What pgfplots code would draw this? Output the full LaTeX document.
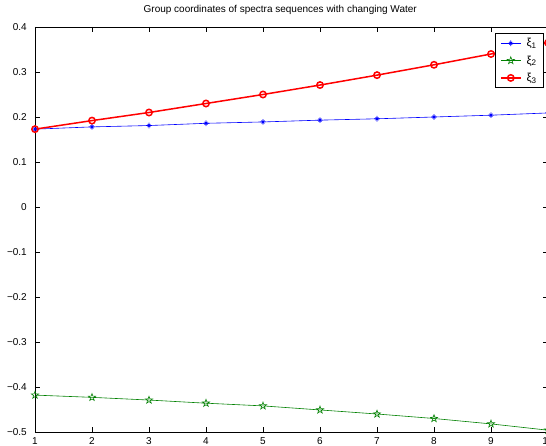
\documentclass[border=0pt]{standalone}
\usepackage{fontspec}
\setmainfont{Liberation Sans}
\usepackage{pgfplots}
\pgfplotsset{compat=1.18}

% MATLAB-style '*' marker: plus and cross combined
\pgfdeclareplotmark{mstar}{%
  \pgfpathmoveto{\pgfqpoint{-\pgfplotmarksize}{0pt}}%
  \pgfpathlineto{\pgfqpoint{\pgfplotmarksize}{0pt}}%
  \pgfpathmoveto{\pgfqpoint{0pt}{-\pgfplotmarksize}}%
  \pgfpathlineto{\pgfqpoint{0pt}{\pgfplotmarksize}}%
  \pgfpathmoveto{\pgfpointpolar{45}{0.75\pgfplotmarksize}}%
  \pgfpathlineto{\pgfpointpolar{225}{0.75\pgfplotmarksize}}%
  \pgfpathmoveto{\pgfpointpolar{135}{0.75\pgfplotmarksize}}%
  \pgfpathlineto{\pgfpointpolar{315}{0.75\pgfplotmarksize}}%
  \pgfusepathqstroke}
% outlined five-pointed star (pentagram)
\pgfdeclareplotmark{pentagram}{%
  \pgfpathmoveto{\pgfpointpolar{90}{\pgfplotmarksize}}%
  \pgfpathlineto{\pgfpointpolar{126}{0.4\pgfplotmarksize}}%
  \pgfpathlineto{\pgfpointpolar{162}{\pgfplotmarksize}}%
  \pgfpathlineto{\pgfpointpolar{198}{0.4\pgfplotmarksize}}%
  \pgfpathlineto{\pgfpointpolar{234}{\pgfplotmarksize}}%
  \pgfpathlineto{\pgfpointpolar{270}{0.4\pgfplotmarksize}}%
  \pgfpathlineto{\pgfpointpolar{306}{\pgfplotmarksize}}%
  \pgfpathlineto{\pgfpointpolar{342}{0.4\pgfplotmarksize}}%
  \pgfpathlineto{\pgfpointpolar{18}{\pgfplotmarksize}}%
  \pgfpathlineto{\pgfpointpolar{54}{0.4\pgfplotmarksize}}%
  \pgfpathclose
  \pgfusepathqstroke}

\definecolor{mblue}{rgb}{0,0,1}
\definecolor{mgreen}{rgb}{0,0.5,0}
\definecolor{mred}{rgb}{1,0,0}

\begin{document}
\begin{tikzpicture}
\begin{axis}[
  scale only axis,
  width=513pt, height=405pt,
  xmin=1, xmax=10, ymin=-0.5, ymax=0.4,
  xtick={1,2,3,4,5,6,7,8,9,10},
  ytick={-0.5,-0.4,-0.3,-0.2,-0.1,0,0.1,0.2,0.3,0.4},
  yticklabels={−0.5,−0.4,−0.3,−0.2,−0.1,0,0.1,0.2,0.3,0.4},
  /pgf/number format/assume math mode=true,
  tick align=inside,
  major tick length=5pt,
  axis line style={line width=0.9pt},
  tick style={black, line width=0.5pt},
  tick label style={font=\fontsize{10}{12}\selectfont},
  xticklabel style={yshift=-1.7pt},
  yticklabel style={xshift=-4.7pt},
  title={Group coordinates of spectra sequences with changing Water},
  title style={at={(0.478,1)}, anchor=base, yshift=8.5pt,
    font=\fontsize{10}{12}\selectfont, inner sep=0pt},
  legend style={at={(1,1)}, anchor=north east, xshift=-4pt, yshift=-6pt,
    draw=black, line width=0.7pt, font=\fontsize{11.5}{13}\selectfont,
    row sep=3.5pt, inner xsep=5pt, inner ysep=3pt,
    /tikz/every odd column/.append style={column sep=3pt}},
  legend image code/.code={%
    \draw[mark repeat=2, mark phase=2]
      plot coordinates {(0pt,0pt) (10pt,0pt) (20pt,0pt)};},
  legend cell align=left,
]
\addplot[mblue, line width=0.6pt, mark=mstar, mark size=2.8pt,
  mark options={line width=0.6pt}]
  coordinates {(1,0.173) (2,0.178) (3,0.181) (4,0.186) (5,0.189)
               (6,0.193) (7,0.196) (8,0.200) (9,0.204) (10,0.209)};
\addlegendentry{ξ\textsubscript{1}}
\addplot[mgreen, line width=0.6pt, mark=pentagram, mark size=3.8pt,
  mark options={line width=0.6pt}]
  coordinates {(1,-0.418) (2,-0.423) (3,-0.429) (4,-0.436) (5,-0.442)
               (6,-0.451) (7,-0.460) (8,-0.470) (9,-0.482) (10,-0.496)};
\addlegendentry{ξ\textsubscript{2}}
\addplot[mred, line width=1.5pt, mark=o, mark size=3.2pt,
  mark options={line width=1.5pt}]
  coordinates {(1,0.173) (2,0.192) (3,0.210) (4,0.230) (5,0.250)
               (6,0.271) (7,0.293) (8,0.316) (9,0.340) (10,0.365)};
\addlegendentry{ξ\textsubscript{3}}
\coordinate (ll) at (rel axis cs:0,0);
\coordinate (ur) at (rel axis cs:1,1);
\end{axis}
% page covers the figure area, whose right edge falls just inside the frame
\pgfresetboundingbox
\path[use as bounding box] ([shift={(-35pt,-13pt)}]ll) rectangle ([shift={(-2pt,27pt)}]ur);
\end{tikzpicture}
\end{document}
